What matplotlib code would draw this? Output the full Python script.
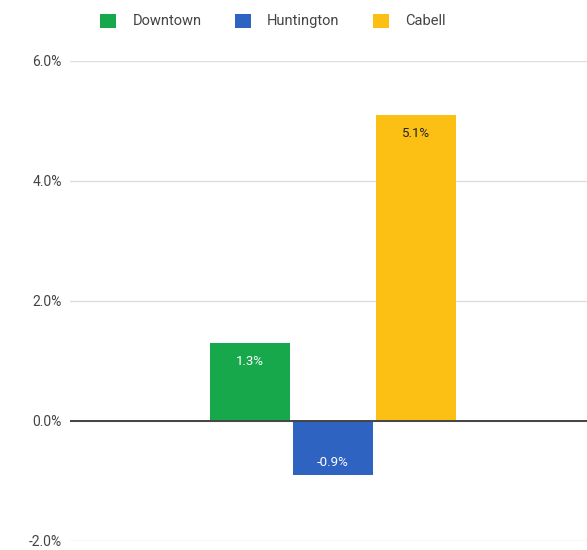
import matplotlib.pyplot as plt

plt.rcParams["font.family"] = ["Roboto", "DejaVu Sans"]

series = ["Downtown", "Huntington", "Cabell"]
values = [1.3, -0.9, 5.1]
colors = ["#17a84b", "#2f63c1", "#fcbf14"]
label_colors = ["white", "white", "#222222"]
yticks = [-2, 0, 2, 4, 6]

DPI = 100
fig = plt.figure(figsize=(5.87, 5.50), dpi=DPI)
# axes box in pixels: left 70, right 587, y from 61 (6%) down to 541 (-2%)
W, H = 587, 550
ax = fig.add_axes([70 / W, (H - 541) / H, (587 - 70) / W, (541 - 61) / H])

width = 0.97
positions = [-1, 0, 1]
for x, v, c, lc, name in zip(positions, values, colors, label_colors, series):
    ax.bar(x, v, width=width, color=c, label=name, zorder=3)
    off = -13 if v >= 0 else 9
    ax.annotate(f"{v:.1f}%", (x, v), xytext=(0, off), textcoords="offset points",
                ha="center", va="center", fontsize=9.5, color=lc, zorder=4)

ax.set_xlim(-3.17, 3.06)
ax.set_ylim(-2, 6)
ax.set_yticks(yticks)
ax.set_yticklabels([f"{t:.1f}%" for t in yticks])
ax.tick_params(axis="y", length=0, pad=6, labelsize=10, labelcolor="#444444")
ax.set_xticks([])
for s in ax.spines.values():
    s.set_visible(False)
ax.grid(axis="y", color="#dddddd", lw=1, zorder=0)
ax.axhline(0, color="#444444", lw=1.4, zorder=5)

fig.legend(loc="center", bbox_to_anchor=(273 / W, 1 - 21 / H), ncol=3, frameon=False,
           fontsize=10.5, labelcolor="#444444", handlelength=1.1, handleheight=1.1,
           handletextpad=1.1, columnspacing=2.3)

fig.savefig("out.png", dpi=DPI)
